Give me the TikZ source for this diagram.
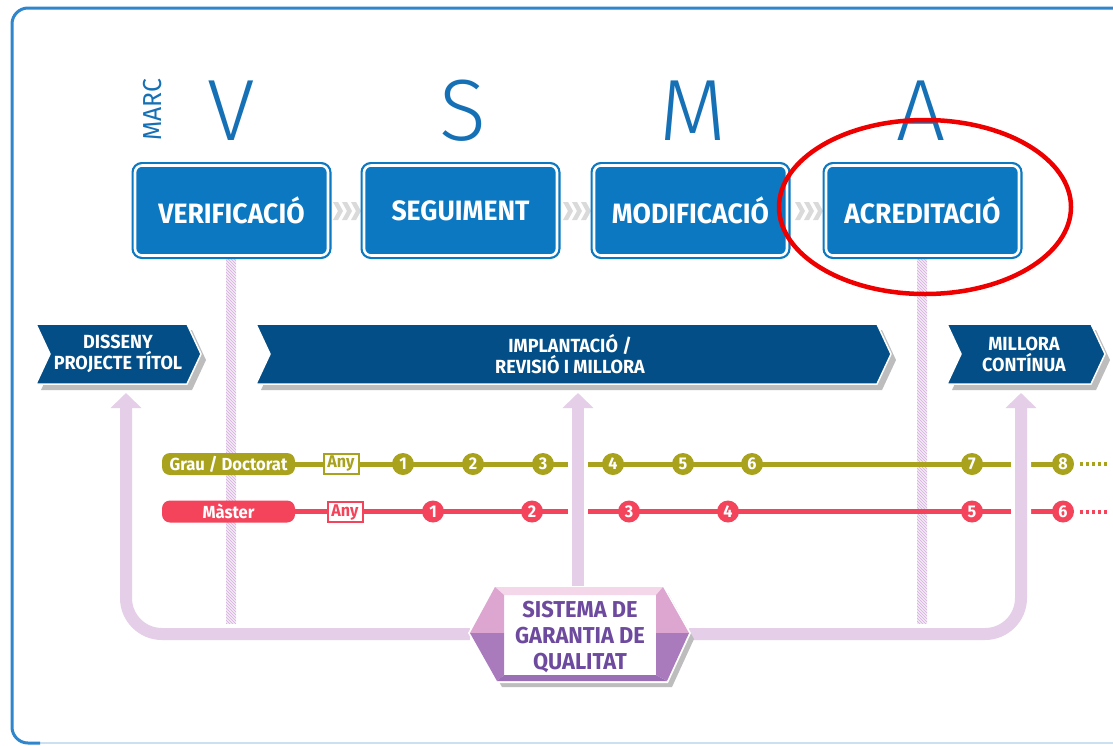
\documentclass[tikz,border=0pt]{standalone}
\usepackage{fontspec}
\setmainfont{Fira Sans}[FakeStretch=0.95]
\newfontfamily\thinfont{Fira Sans Light}
\usetikzlibrary{arrows.meta,patterns,calc}
\definecolor{framec}{HTML}{2F86CC}
\definecolor{boxblue}{HTML}{0B78C1}
\definecolor{letterblue}{HTML}{1570B5}
\definecolor{navy}{HTML}{034E86}
\definecolor{olivec}{HTML}{A8A21D}
\definecolor{redc}{HTML}{F3445C}
\definecolor{lav}{HTML}{E5CEE8}
\definecolor{hatchc}{HTML}{D4AEDD}
\definecolor{hatchbg}{HTML}{F4EAF6}
\definecolor{chevc}{HTML}{DADADA}
\definecolor{bshadow}{HTML}{BDBDBD}
\definecolor{sgqtop}{HTML}{F4D8EA}
\definecolor{sgqpink}{HTML}{DCA6D0}
\definecolor{sgqpurp}{HTML}{A97BBD}
\definecolor{sgqbot}{HTML}{9B6FB6}
\definecolor{sgqtext}{HTML}{6D4A9E}
\definecolor{ellred}{HTML}{EE0000}
\newcommand\drawbanner[2]{%
  \fill[bshadow] (#1+5,330) -- (#2-9,330) -- (#2+5,360) -- (#2-9,390) -- (#1+5,390) -- (#1+19,360) -- cycle;
  \filldraw[fill=navy, draw=white, line width=1.5pt] (#1,324) -- (#2-14,324) -- (#2,354) -- (#2-14,384) -- (#1,384) -- (#1+14,354) -- cycle;}
\newcommand\drawchev[1]{%
  \foreach \k in {0,1,2} {\fill[chevc] (#1+\k*9,202) -- (#1+\k*9+5,202) -- (#1+\k*9+10,211) -- (#1+\k*9+5,220) -- (#1+\k*9,220) -- (#1+\k*9+5,211) -- cycle;}}
\begin{document}
\begin{tikzpicture}[x=1pt,y=-1pt,
  topbox/.style={fill=boxblue, draw=boxblue, double=white, double distance=2.6pt, line width=2.2pt, rounded corners=7pt, minimum width=193pt, minimum height=90pt, text=white, font=\bfseries\fontsize{28}{32}\selectfont, inner sep=0pt},
  bigletter/.style={text=letterblue, font=\thinfont\fontsize{87}{87}\selectfont, anchor=base, inner sep=0pt},
  bannertext/.style={text=white, font=\bfseries\fontsize{19}{21}\selectfont, align=center, inner sep=0pt},
  pill/.style={rounded corners=8pt, minimum width=133pt, minimum height=22pt, text=white, font=\bfseries\fontsize{17.5}{17.5}\selectfont, inner sep=0pt},
  anybox/.style={fill=white, line width=2pt, minimum width=35pt, minimum height=20pt, inner sep=0pt, font=\bfseries\fontsize{17}{17}\selectfont},
  stepdot/.style={circle, minimum size=22pt, inner sep=0pt, text=white, font=\bfseries\fontsize{17}{17}\selectfont},
  purplearrow/.style={lav, line width=12pt, -{Triangle[width=30pt,length=15pt]}, preaction={draw=white, line width=20pt}},
]
\useasboundingbox (0,0) rectangle (1113,745);
\fill[white] (0,0) rectangle (1113,745);
% frame
\draw[framec!25, line width=2pt] (30,743) -- (1140,743);
\draw[framec, line width=3pt, rounded corners=16pt] (1140,8) -- (12,8) -- (12,743) -- (40,743);

% big letters
\node[text=letterblue, font=\fontsize{26}{26}\selectfont, rotate=90, inner sep=0pt] (marc) at (153,110) {MARC};
\node[bigletter] (lv) at (231,140) {V};
\node[bigletter] (ls) at (463,140) {S};
\node[bigletter] (lm) at (693,140) {M};
\node[bigletter] (la) at (921,140) {A};

% hatched lines
\foreach \hx in {231,922} {
  \fill[hatchbg] (\hx-5,259) rectangle (\hx+5,630);
  \fill[pattern=north west lines, pattern color=hatchc] (\hx-5,259) rectangle (\hx+5,630);
}

% chevrons between top boxes
\drawchev{333}
\drawchev{563}
\drawchev{795}

% top boxes
\node[topbox] (ver) at (231.5,210.5) {VERIFICACIÓ};
\node[topbox] (seg) at (460.5,210.5) {SEGUIMENT};
\node[topbox] (mod) at (690.5,210.5) {MODIFICACIÓ};
\node[topbox] (acr) at (922.5,210.5) {ACREDITACIÓ};

% banners
\drawbanner{36}{201}
\drawbanner{256}{891}
\drawbanner{947}{1105}
\node[bannertext] (dis) at (118,354) {DISSENY\\PROJECTE TÍTOL};
\node[bannertext] (impl) at (570,354) {IMPLANTACIÓ /\\REVISIÓ I MILLORA};
\node[bannertext] (mil) at (1024,354) {MILLORA\\CONTÍNUA};
\coordinate (ltip) at (126,393);
\coordinate (mtip) at (578,393);
\coordinate (rtip) at (1021,393);

% timelines
\node[pill, fill=olivec] (gpill) at (228.5,464) {Grau / Doctorat};
\node[pill, fill=redc] (mpill) at (228.5,511.5) {Màster};
\foreach \i/\gx in {1/403,2/473,3/543,4/613,5/683,6/752,7/972,8/1063}
  \coordinate (g\i) at (\gx,464);
\foreach \i/\mx in {1/433,2/532,3/629,4/728,5/972,6/1063}
  \coordinate (m\i) at (\mx,511.5);
\draw[olivec, line width=5pt] (gpill.east) -- (g8);
\draw[redc, line width=5pt] (mpill.east) -- (m6);
\draw[olivec, line width=4pt, dash pattern=on 2.5pt off 3.5pt] ([xshift=17pt]g8) -- ++(28,0);
\draw[redc, line width=4pt, dash pattern=on 2.5pt off 3.5pt] ([xshift=17pt]m6) -- ++(28,0);
\node[anybox, draw=olivec, text=olivec] (gany) at (341,463.5) {Any};
\node[anybox, draw=redc, text=redc] (many) at (345,512) {Any};
\foreach \i in {1,...,8}
  \node[stepdot, fill=olivec] (gc\i) at (g\i) {\i};
\foreach \i in {1,...,6}
  \node[stepdot, fill=redc] (mc\i) at (m\i) {\i};

% SGQ node (anchors only)
\node[minimum width=219pt, minimum height=94pt, inner sep=0pt] (sgq) at (579.5,634) {};

% purple arrows
\draw[purplearrow, rounded corners=36pt] (sgq.west) -- (ltip |- sgq.west) -- (ltip);
\draw[purplearrow, rounded corners=36pt] (sgq.east) -- (rtip |- sgq.east) -- (rtip);
\draw[purplearrow] (sgq.north -| mtip) -- (mtip);

% SGQ shape
\fill[bshadow] (475,639) -- (500,593) -- (668,593) -- (694,639) -- (672,687) -- (502,687) -- cycle;
\fill[white] (468,633) -- (495,586) -- (664,586) -- (691,633) -- (668,683) -- (497,683) -- cycle;
\fill[sgqtop] (495,587) -- (663,587) -- (656,595) -- (504,595) -- cycle;
\fill[sgqpink] (470,633) -- (495,587) -- (504,595) -- (504,633) -- cycle;
\fill[sgqpurp] (470,633) -- (504,633) -- (504,675) -- (497,681) -- cycle;
\fill[sgqbot] (497,681) -- (504,675) -- (656,675) -- (667,681) -- cycle;
\fill[sgqpink] (689,633) -- (663,587) -- (656,595) -- (656,633) -- cycle;
\fill[sgqpurp] (689,633) -- (656,633) -- (656,675) -- (667,681) -- cycle;
\node[text=sgqtext, font=\bfseries\fontsize{23}{26}\selectfont, align=center, inner sep=0pt] (sgqtext) at (580,637) {SISTEMA DE\\GARANTIA DE\\QUALITAT};

% red ellipse
\draw[ellred, line width=4.5pt] (925,207) ellipse [x radius=146, y radius=87];
\end{tikzpicture}
\end{document}
